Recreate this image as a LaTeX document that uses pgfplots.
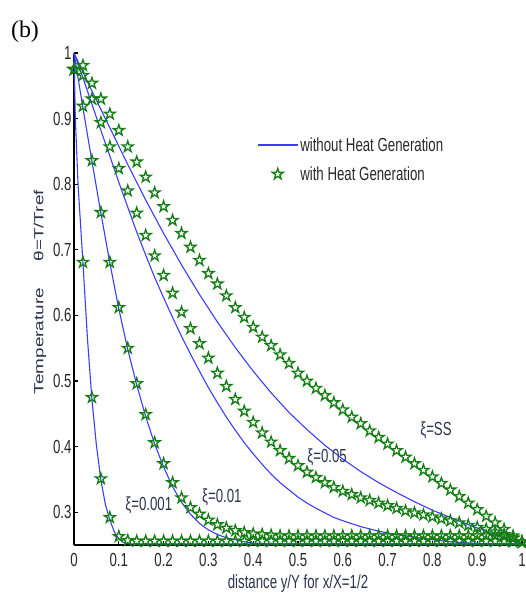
\documentclass[border=0pt]{standalone}
\usepackage{fontspec}
\setmainfont{Liberation Sans}[FakeStretch=0.70]
\newfontfamily\plainsans{Liberation Sans}
\newfontfamily\seriff{Liberation Serif}
\usepackage{graphicx}
\usepackage{pgfplots}
\pgfplotsset{compat=1.18}
\usepackage{pgfplotstable}
\definecolor{lineblue}{RGB}{60,60,250}
\definecolor{stargreen}{RGB}{20,125,20}
\definecolor{labcol}{RGB}{45,50,80}
\definecolor{tickcol}{RGB}{40,40,40}
\newcommand\fs{\fontsize{19}{22}\selectfont}

\pgfdeclareplotmark{pstar}{%
 \pgfpathmoveto{\pgfqpointpolar{90}{\pgfplotmarksize}}%
 \pgfpathlineto{\pgfqpointpolar{126}{0.382\pgfplotmarksize}}%
 \pgfpathlineto{\pgfqpointpolar{162}{\pgfplotmarksize}}%
 \pgfpathlineto{\pgfqpointpolar{198}{0.382\pgfplotmarksize}}%
 \pgfpathlineto{\pgfqpointpolar{234}{\pgfplotmarksize}}%
 \pgfpathlineto{\pgfqpointpolar{270}{0.382\pgfplotmarksize}}%
 \pgfpathlineto{\pgfqpointpolar{306}{\pgfplotmarksize}}%
 \pgfpathlineto{\pgfqpointpolar{342}{0.382\pgfplotmarksize}}%
 \pgfpathlineto{\pgfqpointpolar{18}{\pgfplotmarksize}}%
 \pgfpathlineto{\pgfqpointpolar{54}{0.382\pgfplotmarksize}}%
 \pgfpathclose
 \pgfusepathqstroke
}

\pgfplotstableread{
x     s001   s01    s05    sss
0.00  0.975  0.975  0.975  0.975
0.02  0.681  0.919  0.966  0.981
0.04  0.475  0.836  0.930  0.954
0.06  0.351  0.757  0.894  0.930
0.08  0.292  0.681  0.857  0.907
0.10  0.263  0.612  0.824  0.882
0.12  0.257  0.550  0.790  0.857
0.14  0.256  0.496  0.756  0.834
0.16  0.256  0.449  0.722  0.811
0.18  0.256  0.406  0.691  0.787
0.20  0.256  0.374  0.661  0.766
0.22  0.256  0.345  0.634  0.745
0.24  0.256  0.322  0.605  0.725
0.26  0.256  0.307  0.580  0.704
0.28  0.256  0.297  0.557  0.684
0.30  0.256  0.288  0.535  0.664
0.32  0.256  0.281  0.512  0.648
0.34  0.256  0.276  0.492  0.630
0.36  0.256  0.272  0.472  0.612
0.38  0.256  0.269  0.454  0.597
0.40  0.256  0.267  0.437  0.582
0.42  0.256  0.266  0.421  0.567
0.44  0.256  0.265  0.407  0.554
0.46  0.256  0.264  0.394  0.540
0.48  0.256  0.264  0.382  0.527
0.50  0.256  0.264  0.371  0.512
0.52  0.256  0.264  0.361  0.500
0.54  0.256  0.264  0.353  0.489
0.56  0.256  0.264  0.345  0.478
0.58  0.256  0.264  0.338  0.467
0.60  0.256  0.264  0.332  0.456
0.62  0.256  0.264  0.327  0.445
0.64  0.256  0.264  0.322  0.435
0.66  0.256  0.264  0.318  0.424
0.68  0.256  0.264  0.314  0.414
0.70  0.256  0.264  0.310  0.404
0.72  0.256  0.264  0.306  0.394
0.74  0.256  0.264  0.302  0.384
0.76  0.256  0.264  0.299  0.374
0.78  0.256  0.264  0.296  0.364
0.80  0.256  0.264  0.293  0.354
0.82  0.256  0.264  0.290  0.344
0.84  0.256  0.264  0.287  0.334
0.86  0.256  0.264  0.284  0.324
0.88  0.256  0.264  0.280  0.314
0.90  0.256  0.264  0.277  0.304
0.92  0.256  0.264  0.274  0.294
0.94  0.256  0.264  0.270  0.284
0.96  0.256  0.263  0.266  0.274
0.98  0.255  0.260  0.261  0.264
1.00  0.254  0.255  0.255  0.254
}\stars

\begin{document}
\begin{tikzpicture}[x=1bp,y=1bp]
\begin{axis}[
  at={(74bp,49bp)}, anchor=south west,
  scale only axis, width=448bp, height=492bp,
  xmin=0, xmax=1, ymin=0.25, ymax=1,
  clip=false,
  axis x line*=bottom, axis y line*=left,
  axis line style={black, line width=1.3bp, -},
  tick align=inside, major tick length=4bp,
  tick style={black, line width=1.1bp},
  xtick={0,0.1,0.2,0.3,0.4,0.5,0.6,0.7,0.8,0.9,1},
  xticklabels={0,0.1,0.2,0.3,0.4,0.5,0.6,0.7,0.8,0.9,1},
  ytick={0.3,0.4,0.5,0.6,0.7,0.8,0.9,1},
  yticklabels={0.3,0.4,0.5,0.6,0.7,0.8,0.9,1},
  ticklabel style={font=\fs, text=tickcol},
  xticklabel style={yshift=-5bp},
  yticklabel style={xshift=1bp},
  xlabel={distance y/Y for x/X=1/2},
  xlabel style={at={(axis description cs:0.5,-0.078)}, anchor=center, font=\fs, text=labcol},
  ylabel={\scalebox{1}[0.70]{\plainsans\fs Temperature\hspace{1.4em}θ=T/Tref}},
  ylabel style={at={(axis description cs:-0.076,0.514)}, anchor=center, text=labcol},
  legend style={at={(axis description cs:0.4085,0.833)}, anchor=north west,
    draw=none, fill=none, font=\fs, text=tickcol, row sep=10bp, inner sep=0pt},
  legend cell align=left,
  legend image code/.code={\draw[mark repeat=2,mark phase=2,#1] plot coordinates {(0bp,0bp)(20bp,0bp)(40bp,0bp)};},
]
% without heat generation (lines)
\addplot[lineblue, line width=1.1bp] coordinates {
(0,1)(0.003,0.9)(0.009,0.8)(0.02,0.68)(0.03,0.565)(0.04,0.472)(0.05,0.402)(0.06,0.349)(0.07,0.312)(0.08,0.288)(0.09,0.27)(0.10,0.259)(0.11,0.254)(0.12,0.252)(0.14,0.2515)(1,0.2515)};
\addlegendentry{without Heat Generation}
\addplot[lineblue, line width=1.1bp, forget plot] coordinates {
(0,1)(0.02,0.916)(0.04,0.835)(0.06,0.756)(0.08,0.68)(0.10,0.61)(0.12,0.548)(0.14,0.494)(0.16,0.446)(0.18,0.404)(0.20,0.369)(0.22,0.339)(0.24,0.315)(0.26,0.297)(0.28,0.283)(0.30,0.273)(0.32,0.266)(0.34,0.261)(0.36,0.258)(0.38,0.255)(0.40,0.253)(0.44,0.2515)(1,0.2515)};
\addplot[lineblue, line width=1.1bp, forget plot] coordinates {
(0,1)(0.02,0.962)(0.04,0.922)(0.06,0.882)(0.08,0.843)(0.10,0.803)(0.12,0.765)(0.14,0.727)(0.16,0.692)(0.18,0.658)(0.20,0.627)(0.22,0.597)(0.24,0.568)(0.26,0.541)(0.28,0.515)(0.30,0.49)(0.32,0.467)(0.34,0.445)(0.36,0.425)(0.38,0.406)(0.40,0.389)(0.42,0.373)(0.44,0.358)(0.46,0.345)(0.48,0.334)(0.50,0.323)(0.52,0.314)(0.54,0.306)(0.56,0.299)(0.58,0.292)(0.60,0.287)(0.64,0.278)(0.68,0.271)(0.72,0.266)(0.76,0.262)(0.80,0.258)(0.84,0.255)(0.88,0.253)(0.92,0.252)(1,0.2515)};
\addplot[lineblue, line width=1.1bp, forget plot] coordinates {
(0,1)(0.04,0.942)(0.08,0.886)(0.12,0.83)(0.16,0.776)(0.20,0.725)(0.24,0.677)(0.28,0.632)(0.32,0.59)(0.36,0.551)(0.40,0.515)(0.44,0.482)(0.48,0.452)(0.52,0.426)(0.56,0.402)(0.60,0.381)(0.64,0.362)(0.68,0.345)(0.72,0.330)(0.76,0.316)(0.80,0.303)(0.84,0.292)(0.88,0.281)(0.92,0.271)(0.96,0.261)(1.0,0.252)};
% with heat generation (stars)
\addplot[only marks, mark=pstar, mark size=5.8bp, stargreen, line width=1.3bp] table[x=x,y=s001] {\stars};
\addlegendentry{with Heat Generation}
\addplot[only marks, mark=pstar, mark size=5.8bp, stargreen, line width=1.3bp, forget plot] table[x=x,y=s01] {\stars};
\addplot[only marks, mark=pstar, mark size=5.8bp, stargreen, line width=1.3bp, forget plot] table[x=x,y=s05] {\stars};
\addplot[only marks, mark=pstar, mark size=5.8bp, stargreen, line width=1.3bp, forget plot] table[x=x,y=sss] {\stars};
\node[font=\fs, text=labcol] at (axis cs:0.167,0.311) {ξ=0.001};
\node[font=\fs, text=labcol] at (axis cs:0.33,0.323) {ξ=0.01};
\node[font=\fs, text=labcol] at (axis cs:0.565,0.384) {ξ=0.05};
\node[font=\fs, text=labcol] at (axis cs:0.808,0.425) {ξ=SS};
\end{axis}
\node[font=\seriff\fontsize{24}{28}\selectfont] at (25bp,562bp) {(b)};
\pgfresetboundingbox
\path[use as bounding box] (0bp,0bp) rectangle (526bp,594bp);
\end{tikzpicture}
\end{document}
